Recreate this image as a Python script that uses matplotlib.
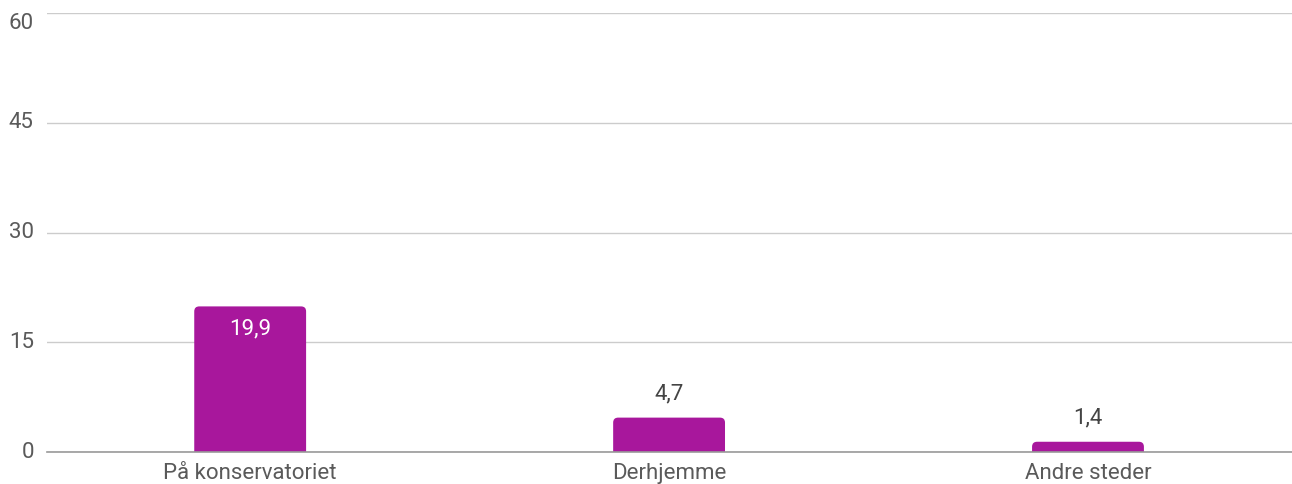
import matplotlib
matplotlib.use("Agg")
import matplotlib.pyplot as plt
from matplotlib.patches import FancyBboxPatch

categories = ["På konservatoriet", "Derhjemme", "Andre steder"]
values = [19.9, 4.7, 1.4]
value_labels = ["19,9", "4,7", "1,4"]
yticks = [0, 15, 30, 45, 60]

plt.rcParams['font.family'] = ['Roboto', 'DejaVu Sans']

W, H = 1292, 484
fig = plt.figure(figsize=(W / 100, H / 100), dpi=100)
ax = fig.add_axes([47 / W, 1 - 452 / H, 1 - 47 / W, (452 - 13) / H])

color = "#a8179c"
bars = ax.bar(range(len(categories)), values, width=0.267, color=color)
ax.set_xlim(-0.485, 2.487)
ax.set_ylim(0, 60)

# replace with rounded-top bars
x_per_px = (2.487 + 0.485) / (W - 47)
y_per_px = 60 / (452 - 13)
r_px = 5
for b in bars:
    x, w, h = b.get_x(), b.get_width(), b.get_height()
    b.set_visible(False)
    p = FancyBboxPatch((x, -2), w, h + 2,
                       boxstyle=f"round,pad=0,rounding_size={r_px * x_per_px}",
                       mutation_aspect=y_per_px / x_per_px,
                       facecolor=color, edgecolor="none", zorder=3)
    ax.add_patch(p)

fs = 16
for i, (v, lab) in enumerate(zip(values, value_labels)):
    if v > 10:
        ax.annotate(lab, (i, v), xytext=(0, -16), textcoords="offset points",
                    ha="center", va="center", color="white", fontsize=fs, zorder=4)
    else:
        ax.annotate(lab, (i, v), xytext=(0, 17), textcoords="offset points",
                    ha="center", va="center", color="#444444", fontsize=fs, zorder=4)

ax.set_yticks(yticks)
ax.set_yticklabels([str(t) for t in yticks])
ax.set_xticks(range(len(categories)))
ax.set_xticklabels(categories)
ax.tick_params(axis="both", length=0, labelsize=fs, colors="#5a5a5a")
ax.tick_params(axis="y", pad=9.5)
ax.tick_params(axis="x", pad=8)
ylabs = ax.get_yticklabels()
for lab in ylabs:
    lab.set_verticalalignment("center")
ylabs[-1].set_verticalalignment("top")

ax.grid(axis="y", color="#cccccc", linewidth=1)
ax.set_axisbelow(True)
for s in ["top", "right", "left"]:
    ax.spines[s].set_visible(False)
ax.spines["bottom"].set_color("#999999")
ax.spines["bottom"].set_linewidth(1.2)
ax.spines["bottom"].set_zorder(5)

fig.savefig("out.png", dpi=100)
